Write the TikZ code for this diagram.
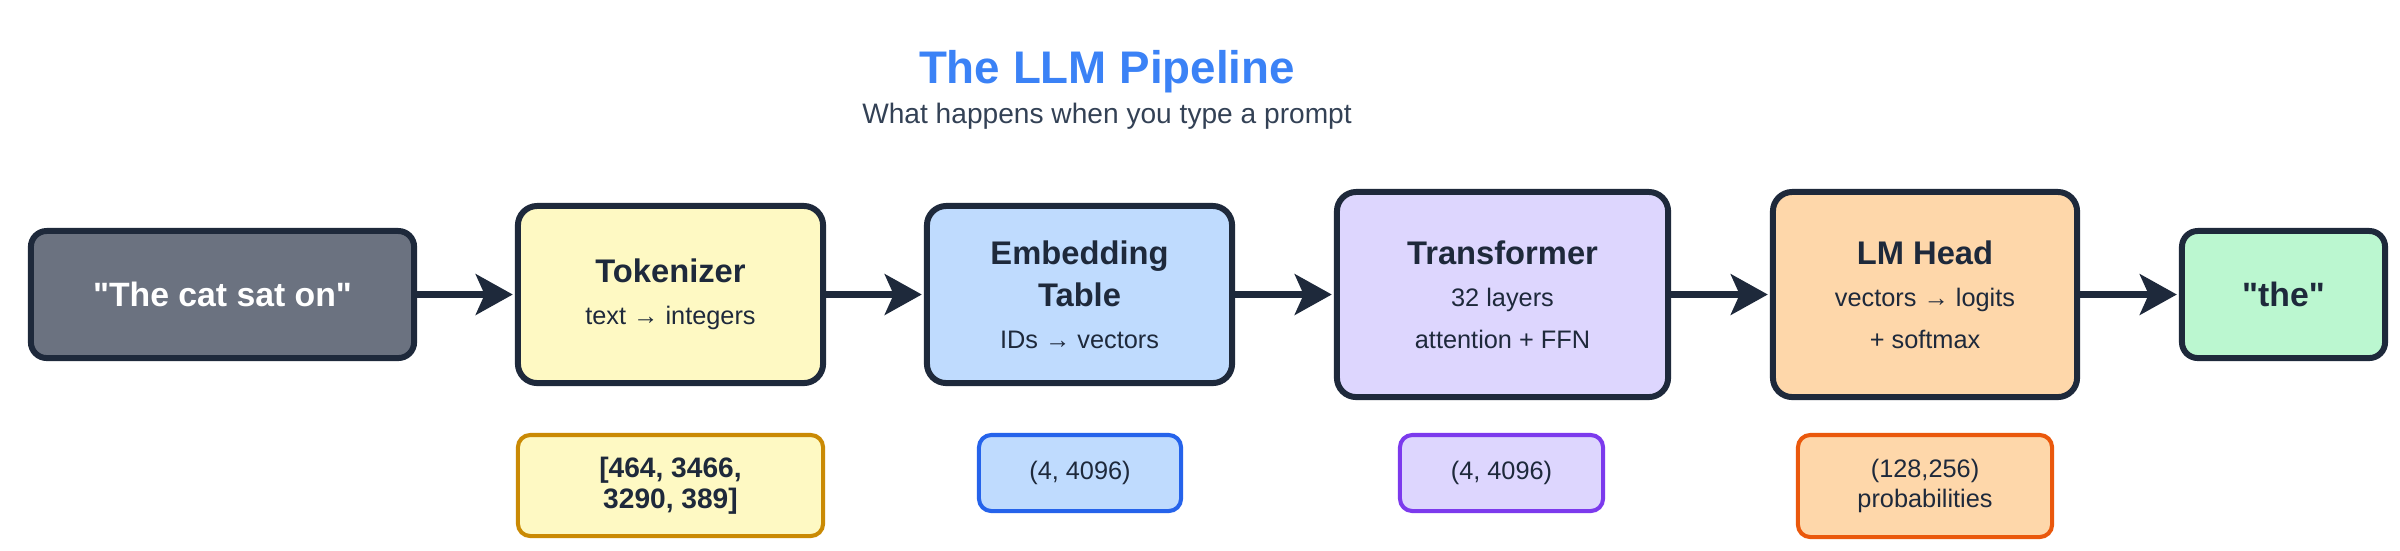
\documentclass[tikz,border=0pt]{standalone}
\usepackage{fontspec}
\setmainfont{Liberation Sans}
\usetikzlibrary{arrows.meta}

\definecolor{ink}{HTML}{1E293B}
\definecolor{slate}{HTML}{334155}
\definecolor{titleblue}{HTML}{3B82F6}
\definecolor{promptgray}{HTML}{6B7280}
\definecolor{tokfill}{HTML}{FEF9C3}
\definecolor{tokline}{HTML}{CA8A04}
\definecolor{embfill}{HTML}{BFDBFE}
\definecolor{embline}{HTML}{2563EB}
\definecolor{trffill}{HTML}{DDD6FE}
\definecolor{trfline}{HTML}{7C3AED}
\definecolor{lmhfill}{HTML}{FED7AA}
\definecolor{lmhline}{HTML}{EA580C}
\definecolor{outfill}{HTML}{BBF7D0}

\newcommand\headfont{\fontsize{9.3pt}{12pt}\selectfont\bfseries}
\newcommand\notefont{\fontsize{7.2pt}{12pt}\selectfont\mdseries}

\begin{document}
\begin{tikzpicture}[x=0.01cm, y=-0.01cm,
    stage/.style={draw=ink, line width=1.7pt, rounded corners=5.5pt, align=center,
                  text=ink, inner sep=0pt, font=\headfont},
    endbox/.style={stage, rounded corners=4.5pt, minimum height=1.27cm,
                   font=\fontsize{9.6pt}{12pt}\selectfont\bfseries},
    dimbox/.style={line width=1.15pt, rounded corners=3.5pt, align=center, text=ink,
                   inner sep=0pt, font=\fontsize{7.2pt}{8.5pt}\selectfont},
    flow/.style={draw=ink, line width=2pt, shorten >=0.6pt,
                 -{Stealth[length=10.5pt, width=11.5pt, inset=2.5pt]}}]
    \useasboundingbox (0,0) rectangle (2400,550);

    % heading
    \node (title) at (1107,83) [anchor=base, text=titleblue,
        font=\fontsize{13pt}{15pt}\selectfont\bfseries] {The LLM Pipeline};
    \node (subtitle) at (1107,123) [anchor=base, text=slate,
        font=\fontsize{8pt}{10pt}\selectfont] {What happens when you type a prompt};

    % pipeline stages
    \node (prompt) at (222.5,294.5) [endbox, fill=promptgray, text=white,
        minimum width=3.83cm] {\textquotedbl The cat sat on\textquotedbl};
    \node (tok) at (670.5,294.5) [stage, fill=tokfill, minimum width=3.05cm,
        minimum height=1.77cm] {Tokenizer\\{\notefont text → integers}};
    \node (emb) at (1079.5,294.5) [stage, fill=embfill, minimum width=3.05cm,
        minimum height=1.77cm] {Embedding\\Table\\{\notefont IDs → vectors}};
    \node (trf) at (1502.5,294.5) [stage, fill=trffill, minimum width=3.31cm,
        minimum height=2.05cm] {Transformer\\{\notefont 32 layers}\\{\notefont attention + FFN}};
    \node (lmh) at (1925,294.5) [stage, fill=lmhfill, minimum width=3.04cm,
        minimum height=2.05cm] {LM Head\\{\notefont vectors → logits}\\{\notefont + softmax}};
    \node (out) at (2283.5,294.5) [endbox, fill=outfill, minimum width=2.03cm] {\textquotedbl the\textquotedbl};

    \draw[flow] (prompt) -- (tok);
    \draw[flow] (tok) -- (emb);
    \draw[flow] (emb) -- (trf);
    \draw[flow] (trf) -- (lmh);
    \draw[flow] (lmh) -- (out);

    % tensor shapes
    \node (toksub) at (670.5,485.5) [dimbox, draw=tokline, fill=tokfill,
        minimum width=3.05cm, minimum height=1.01cm,
        font=\fontsize{8pt}{8.9pt}\selectfont\bfseries] {[464, 3466,\\3290, 389]};
    \node (embsub) at (1080,473) [dimbox, draw=embline, fill=embfill,
        minimum width=2.02cm, minimum height=0.76cm] {(4, 4096)};
    \node (trfsub) at (1501.5,473) [dimbox, draw=trfline, fill=trffill,
        minimum width=2.03cm, minimum height=0.76cm] {(4, 4096)};
    \node (lmhsub) at (1925,486) [dimbox, draw=lmhline, fill=lmhfill,
        minimum width=2.54cm, minimum height=1.02cm] {(128,256)\\probabilities};
\end{tikzpicture}
\end{document}
